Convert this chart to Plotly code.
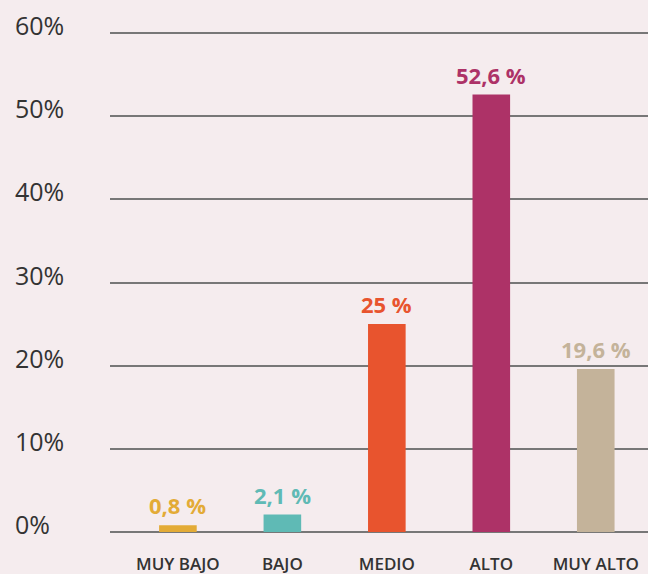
import plotly.graph_objects as go

categories = ["MUY BAJO", "BAJO", "MEDIO", "ALTO", "MUY ALTO"]
values = [0.8, 2.1, 25.0, 52.6, 19.6]
value_labels = ["0,8 %", "2,1 %", "25 %", "52,6 %", "19,6 %"]
colors = ["#E3AB36", "#5FBAB5", "#E8542E", "#AD3267", "#C4B39A"]
tick_values = [0, 10, 20, 30, 40, 50, 60]
tick_labels = ["0%", "10%", "20%", "30%", "40%", "50%", "60%"]

BG = "#F5ECEE"
FONT = "Open Sans"

fig = go.Figure()
fig.add_trace(go.Bar(
    x=list(range(len(categories))), y=values,
    marker=dict(color=colors, line=dict(width=0)),
    width=0.36, hoverinfo="skip",
))

annotations = []
for i, (v, lab, c) in enumerate(zip(values, value_labels, colors)):
    annotations.append(dict(
        x=i, y=v, xref="x", yref="y", text=f"<b>{lab}</b>", showarrow=False,
        yanchor="bottom", yshift=3, font=dict(family=FONT, size=22, color=c),
    ))
for tv, tl in zip(tick_values, tick_labels):
    annotations.append(dict(
        x=0, y=tv, xref="paper", yref="y", text=tl, showarrow=False,
        xanchor="left", yanchor="middle", xshift=-97, yshift=8,
        font=dict(family=FONT, size=25, color="#333333"),
    ))

fig.update_layout(
    width=648, height=574,
    paper_bgcolor=BG, plot_bgcolor=BG,
    margin=dict(l=110, r=0, t=31, b=42),
    showlegend=False,
    annotations=annotations,
    xaxis=dict(
        range=[-0.65, 4.5], tickmode="array",
        tickvals=list(range(len(categories))), ticktext=categories,
        showgrid=False, zeroline=False, showline=False,
        ticks="outside", ticklen=17, tickcolor="rgba(0,0,0,0)",
        tickfont=dict(family=FONT, size=17, color="#333333", weight=600),
    ),
    yaxis=dict(
        range=[0, 60.25], tickvals=tick_values, showticklabels=False,
        showgrid=True, gridcolor="#777777", gridwidth=1.5,
        zeroline=True, zerolinecolor="#777777", zerolinewidth=1.5,
        showline=False,
    ),
)

fig.write_html(
    "out.html",
    config={"displayModeBar": False},
    post_script="document.body.style.margin='0';document.body.style.background='%s';" % BG,
)
